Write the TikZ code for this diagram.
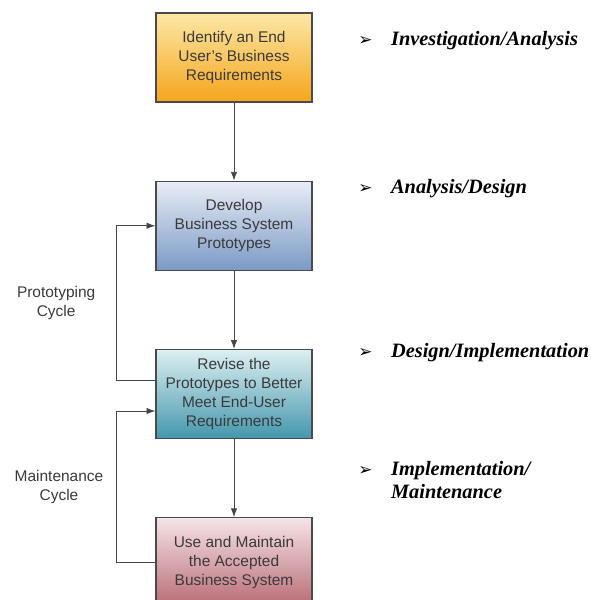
\documentclass[tikz,border=0pt]{standalone}
\usepackage{fontspec}
\setmainfont{Liberation Serif}
\setsansfont{Liberation Sans}
\newfontfamily\dingfont{DejaVu Sans}
\usetikzlibrary{arrows.meta, positioning}
\usepackage{xcolor}

\definecolor{boxline}{HTML}{4A4A4A}
\definecolor{boxtext}{HTML}{3A3A3A}
\definecolor{arrowgray}{HTML}{454545}
\definecolor{reqtop}{HTML}{FDE8A6}
\definecolor{reqbot}{HTML}{F5A51C}
\definecolor{devtop}{HTML}{E8EDF6}
\definecolor{devbot}{HTML}{7B99C5}
\definecolor{revtop}{HTML}{DCEFF2}
\definecolor{revbot}{HTML}{4496AD}
\definecolor{usetop}{HTML}{F5E4E6}
\definecolor{usebot}{HTML}{B86A74}

\newcommand\phaseitem[1]{\makebox[0.82cm][l]{\dingfont\fontsize{12}{12}\selectfont ➢}#1}

\begin{document}
\begin{tikzpicture}[
  node distance=1.95cm,
  box/.style={
    draw=boxline,
    line width=0.9pt,
    rectangle,
    align=center,
    text=boxtext,
    minimum height=2.225cm,
    minimum width=3.9cm,
    font=\sffamily\fontsize{11}{13.5}\selectfont
  },
  arrow/.style={-{Latex[length=2.2mm,width=1.6mm]}, draw=arrowgray, line width=0.6pt},
  cyclelabel/.style={align=center, text=boxtext, font=\sffamily\fontsize{11}{13.5}\selectfont},
  phase/.style={anchor=west, inner sep=0pt, align=left,
    font=\rmfamily\bfseries\itshape\fontsize{14.5}{17}\selectfont}
]
\useasboundingbox (0,0) rectangle (14.775,15);

\node[box, top color=reqtop, bottom color=reqbot] (identify) at (5.85,13.5625)
  {Identify an End\\User's Business\\Requirements};
\node[box, top color=devtop, bottom color=devbot, below=of identify] (develop)
  {Develop\\Business System\\Prototypes};
\node[box, top color=revtop, bottom color=revbot, below=of develop] (revise)
  {Revise the\\Prototypes to Better\\Meet End-User\\Requirements};
\node[box, top color=usetop, bottom color=usebot, below=of revise] (maintain)
  {Use and Maintain\\the Accepted\\Business System};

\draw[arrow] (identify.south) -- (develop.north);
\draw[arrow] (develop.south) -- (revise.north);
\draw[arrow] (revise.south) -- (maintain.north);

% cycles on the left
\draw[arrow] ([yshift=0.35cm]revise.west) -- ++(-0.975,0) |-
  node[cyclelabel, left=0.4cm, pos=0.25] {Prototyping\\Cycle} (develop.west);
\draw[arrow] (maintain.west) -- ++(-0.975,0) |-
  node[cyclelabel, left=0.2cm, pos=0.25] {Maintenance\\Cycle} ([yshift=-0.425cm]revise.west);

% phases on the right
\node[phase] (investigation) at (8.95,13.98) {\phaseitem{Investigation/Analysis}};
\node[phase] (analysis) at (8.95,10.28) {\phaseitem{Analysis/Design}};
\node[phase] (design) at (8.95,6.18) {\phaseitem{Design/Implementation}};
\node[phase] (implementation) at (8.95,3.0)
  {\phaseitem{Implementation/}\\\hspace*{0.82cm}Maintenance};

\end{tikzpicture}
\end{document}
